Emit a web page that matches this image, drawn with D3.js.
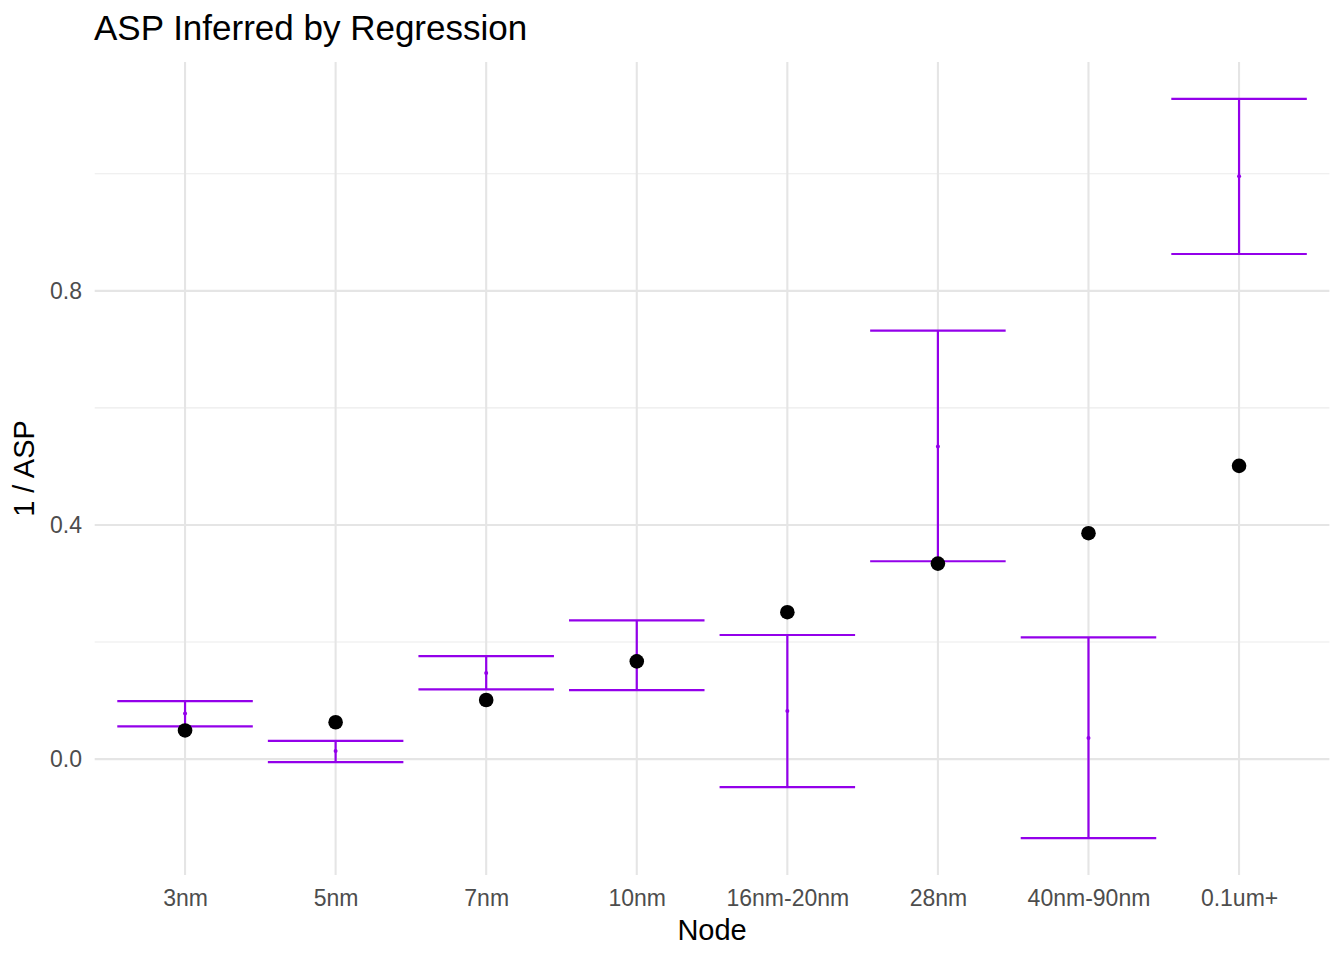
<!DOCTYPE html>
<html><head><meta charset="utf-8">
<script src="https://cdn.jsdelivr.net/npm/d3@7"></script>
<style>body{margin:0;background:#fff}svg{display:block}text{font-family:"Liberation Sans",Arial,sans-serif}</style>
</head><body><svg id="c" width="1344" height="960"></svg>
<script>
const categories = ["3nm","5nm","7nm","10nm","16nm-20nm","28nm","40nm-90nm","0.1um+"];
const ciLow   = [0.056, -0.005, 0.119, 0.118, -0.048, 0.338, -0.135, 0.863];
const ciHigh  = [0.099, 0.031, 0.176, 0.237, 0.212, 0.732, 0.208, 1.128];
const ciMid   = [0.078, 0.014, 0.147, 0.177, 0.082, 0.534, 0.036, 0.996];
const observed= [0.049, 0.063, 0.101, 0.167, 0.251, 0.334, 0.386, 0.501];
const yTicks = [0.0, 0.4, 0.8];
const yMinor = [0.2, 0.6, 1.0];

const svg = d3.select("#c");
const L = 94.7, R = 1329.4, T = 62, B = 875;
const purple = "#9300EA";
const step = (R - L) / 8.2;
const xPos = d3.scalePoint().domain(categories).range([L + 0.6*step, R - 0.6*step]);
const y = d3.scaleLinear().domain([-0.198, 1.191]).range([B, T]);

// grid
const g = svg.append("g");
g.selectAll(".mn").data(yMinor).join("line").attr("x1",L).attr("x2",R)
 .attr("y1",d=>y(d)).attr("y2",d=>y(d)).attr("stroke","#ebebeb").attr("stroke-width",1.1);
g.selectAll(".mj").data(yTicks).join("line").attr("x1",L).attr("x2",R)
 .attr("y1",d=>y(d)).attr("y2",d=>y(d)).attr("stroke","#e5e5e5").attr("stroke-width",2.1);
g.selectAll(".vx").data(categories).join("line").attr("x1",d=>xPos(d)).attr("x2",d=>xPos(d))
 .attr("y1",T).attr("y2",B).attr("stroke","#e5e5e5").attr("stroke-width",2.1);

// axes labels via d3 axes
const xAxis = svg.append("g").attr("transform",`translate(0,${B})`)
 .call(d3.axisBottom(xPos).tickSize(0).tickPadding(14.7));
xAxis.select(".domain").remove();
xAxis.selectAll("text").attr("fill","#4d4d4d").attr("font-size",23).attr("font-family","Liberation Sans, Arial, sans-serif");
const yAxis = svg.append("g").attr("transform",`translate(${L},0)`)
 .call(d3.axisLeft(y).tickValues(yTicks).tickFormat(d3.format(".1f")).tickSize(0).tickPadding(12.7));
yAxis.select(".domain").remove();
yAxis.selectAll("text").attr("fill","#4d4d4d").attr("font-size",23).attr("font-family","Liberation Sans, Arial, sans-serif");

const data = categories.map((c,i)=>({c, lo:ciLow[i], hi:ciHigh[i], mid:ciMid[i], obs:observed[i]}));
const hw = step*0.45;
const eb = svg.append("g");
eb.selectAll(".v").data(data).join("line").attr("x1",d=>xPos(d.c)).attr("x2",d=>xPos(d.c))
 .attr("y1",d=>y(d.lo)).attr("y2",d=>y(d.hi)).attr("stroke",purple).attr("stroke-width",2.2);
eb.selectAll(".t").data(data).join("line").attr("x1",d=>xPos(d.c)-hw).attr("x2",d=>xPos(d.c)+hw)
 .attr("y1",d=>y(d.hi)).attr("y2",d=>y(d.hi)).attr("stroke",purple).attr("stroke-width",2.2);
eb.selectAll(".b").data(data).join("line").attr("x1",d=>xPos(d.c)-hw).attr("x2",d=>xPos(d.c)+hw)
 .attr("y1",d=>y(d.lo)).attr("y2",d=>y(d.lo)).attr("stroke",purple).attr("stroke-width",2.2);
eb.selectAll(".m").data(data).join("circle").attr("cx",d=>xPos(d.c)).attr("cy",d=>y(d.mid))
 .attr("r",2).attr("fill",purple);
svg.append("g").selectAll("circle").data(data).join("circle").attr("cx",d=>xPos(d.c)).attr("cy",d=>y(d.obs))
 .attr("r",7.3).attr("fill","#000");

svg.append("text").attr("x",94).attr("y",40).attr("font-size",35).attr("fill","#000").text("ASP Inferred by Regression");
svg.append("text").attr("x",(L+R)/2).attr("y",940).attr("text-anchor","middle").attr("font-size",29).attr("fill","#000").text("Node");
svg.append("text").attr("transform",`translate(34,${(T+B)/2}) rotate(-90)`).attr("text-anchor","middle").attr("font-size",29).attr("fill","#000").text("1 / ASP");
</script></body></html>
